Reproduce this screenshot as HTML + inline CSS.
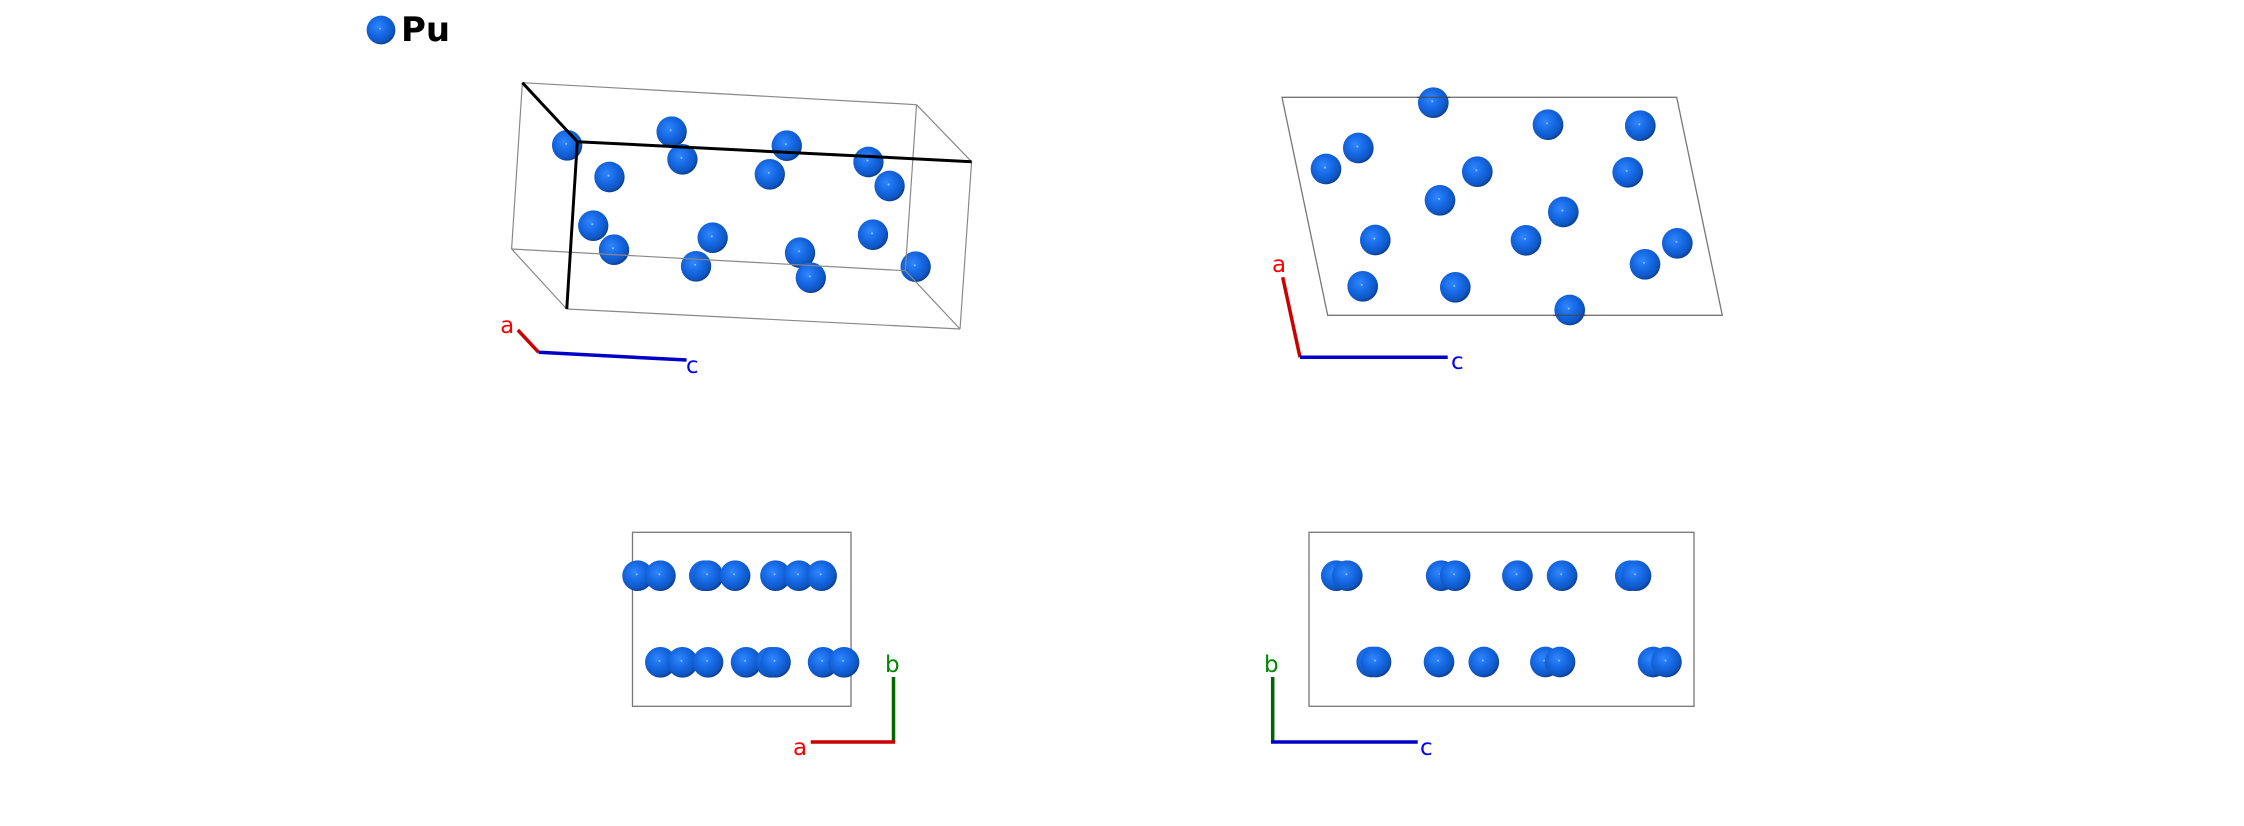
<!DOCTYPE html>
<html><head><meta charset="utf-8"><style>
html,body{margin:0;padding:0;background:#fff;}
svg{display:block;}
text{font-family:"DejaVu Sans","Liberation Sans",sans-serif;}
</style></head><body>
<svg width="2244" height="826" viewBox="0 0 2244 826" xmlns="http://www.w3.org/2000/svg">
<defs>
<radialGradient id="g" cx="0.42" cy="0.4" r="0.62" fx="0.4" fy="0.38">
<stop offset="0" stop-color="#2f86ff"/>
<stop offset="0.55" stop-color="#1466e0"/>
<stop offset="0.85" stop-color="#0f55c0"/>
<stop offset="1" stop-color="#0a3a86"/>
</radialGradient>
<symbol id="s" viewBox="-17 -17 34 34" overflow="visible"><circle r="16.3" fill="url(#g)"/><circle cx="-1" cy="-1.5" r="1.1" fill="#8fbfff"/></symbol>
</defs>
<!-- legend -->
<use href="#s" x="366" y="15" width="30" height="30"/>
<text x="401" y="41" font-size="34" font-weight="bold" fill="#000">Pu</text>

<!-- panel 1 -->
<g transform="translate(350,0) scale(0.9884,1) translate(-350,0)">
<use href="#s" x="553.7" y="129.3" width="32" height="32"/>
<use href="#s" x="659.4" y="115.7" width="32" height="32"/>
<use href="#s" x="670.3" y="143.3" width="32" height="32"/>
<use href="#s" x="596.5" y="161" width="32" height="32"/>
<use href="#s" x="775.9" y="129.7" width="32" height="32"/>
<use href="#s" x="758.7" y="158.3" width="32" height="32"/>
<use href="#s" x="858.5" y="146" width="32" height="32"/>
<use href="#s" x="879.9" y="170" width="32" height="32"/>
<use href="#s" x="580.1" y="209.7" width="32" height="32"/>
<use href="#s" x="601.1" y="233.7" width="32" height="32"/>
<use href="#s" x="700.9" y="221.7" width="32" height="32"/>
<use href="#s" x="684.1" y="250.3" width="32" height="32"/>
<use href="#s" x="789.3" y="236.7" width="32" height="32"/>
<use href="#s" x="800.2" y="261.7" width="32" height="32"/>
<use href="#s" x="863.1" y="218.7" width="32" height="32"/>
<use href="#s" x="906.3" y="250.7" width="32" height="32"/>
<g stroke="#888" stroke-width="1.2" fill="none">
<line x1="524.4" y1="82.7" x2="923.2" y2="104.7"/>
<line x1="923.2" y1="104.7" x2="978.9" y2="161.7"/>
<line x1="524.4" y1="82.7" x2="513.5" y2="249"/>
<line x1="513.5" y1="249" x2="569.3" y2="309"/>
<line x1="569.3" y1="309" x2="967.2" y2="329"/>
<line x1="967.2" y1="329" x2="978.9" y2="161.7"/>
<line x1="923.2" y1="104.7" x2="911.8" y2="270.7"/>
<line x1="911.8" y1="270.7" x2="967.2" y2="329"/>
<line x1="513.5" y1="249" x2="911.8" y2="270.7"/>
</g>
<g stroke="#000" stroke-width="3" fill="none">
<line x1="524.4" y1="82.7" x2="580" y2="141.7"/>
<line x1="580" y1="141.7" x2="978.9" y2="161.7"/>
<line x1="580" y1="141.7" x2="569.3" y2="309"/>
</g>
<line x1="519.8" y1="330" x2="540.8" y2="352.3" stroke="#c00" stroke-width="3.5"/>
<line x1="540.8" y1="352.3" x2="690.5" y2="360" stroke="#0000c8" stroke-width="3.5"/>
<text x="502" y="333" font-size="23" fill="#f00">a</text>
<text x="690" y="373" font-size="23" fill="#00f">c</text>
</g>

<!-- panel 2 -->
<g>
<polygon points="1282,97.3 1676.7,97.3 1722.3,315.3 1327.7,315.3" fill="none" stroke="#777" stroke-width="1.3"/>
<use href="#s" x="1417.3" y="86.7" width="32" height="32"/>
<use href="#s" x="1532" y="108.7" width="32" height="32"/>
<use href="#s" x="1624.3" y="109.7" width="32" height="32"/>
<use href="#s" x="1342.3" y="132" width="32" height="32"/>
<use href="#s" x="1310" y="153" width="32" height="32"/>
<use href="#s" x="1461.3" y="155.7" width="32" height="32"/>
<use href="#s" x="1611.7" y="156.3" width="32" height="32"/>
<use href="#s" x="1424" y="184.3" width="32" height="32"/>
<use href="#s" x="1547.3" y="196" width="32" height="32"/>
<use href="#s" x="1359.3" y="224" width="32" height="32"/>
<use href="#s" x="1510" y="224.3" width="32" height="32"/>
<use href="#s" x="1661.3" y="227.3" width="32" height="32"/>
<use href="#s" x="1629" y="248.3" width="32" height="32"/>
<use href="#s" x="1346.7" y="270.3" width="32" height="32"/>
<use href="#s" x="1439.3" y="271.3" width="32" height="32"/>
<use href="#s" x="1553.7" y="294" width="32" height="32"/>
<line x1="1417" y1="97.3" x2="1450" y2="97.3" stroke="#444" stroke-width="1"/>
<line x1="1553" y1="315.3" x2="1586" y2="315.3" stroke="#444" stroke-width="1"/>
<line x1="1282.7" y1="277.3" x2="1300" y2="357.3" stroke="#c00" stroke-width="3.5"/>
<line x1="1300" y1="357.3" x2="1447.7" y2="357.3" stroke="#0000c8" stroke-width="3.5"/>
<text x="1272" y="272" font-size="23" fill="#f00">a</text>
<text x="1451" y="369" font-size="23" fill="#00f">c</text>
</g>

<!-- panel 3 -->
<g>
<rect x="632.5" y="532.3" width="218.5" height="174" fill="none" stroke="#777" stroke-width="1.3"/>
<use href="#s" x="621.6" y="559.7" width="32" height="32"/>
<use href="#s" x="644.4" y="559.7" width="32" height="32"/>
<use href="#s" x="688.3" y="559.7" width="32" height="32"/>
<use href="#s" x="692" y="559.7" width="32" height="32"/>
<use href="#s" x="719.1" y="559.7" width="32" height="32"/>
<use href="#s" x="759.5" y="559.7" width="32" height="32"/>
<use href="#s" x="782.9" y="559.7" width="32" height="32"/>
<use href="#s" x="805.6" y="559.7" width="32" height="32"/>
<use href="#s" x="644.4" y="646.3" width="32" height="32"/>
<use href="#s" x="666.4" y="646.3" width="32" height="32"/>
<use href="#s" x="692" y="646.3" width="32" height="32"/>
<use href="#s" x="730.1" y="646.3" width="32" height="32"/>
<use href="#s" x="755" y="646.3" width="32" height="32"/>
<use href="#s" x="759.5" y="646.3" width="32" height="32"/>
<use href="#s" x="807.1" y="646.3" width="32" height="32"/>
<use href="#s" x="828" y="646.3" width="32" height="32"/>
<line x1="893.5" y1="677" x2="893.5" y2="742" stroke="#006600" stroke-width="3.5"/>
<line x1="810.7" y1="742" x2="895" y2="742" stroke="#c00" stroke-width="3.5"/>
<text x="885" y="672" font-size="23" fill="#080">b</text>
<text x="793" y="755" font-size="23" fill="#f00">a</text>
</g>

<!-- panel 4 -->
<g>
<rect x="1309" y="532.3" width="385" height="174" fill="none" stroke="#777" stroke-width="1.3"/>
<use href="#s" x="1320.3" y="559.7" width="32" height="32"/>
<use href="#s" x="1331.3" y="559.7" width="32" height="32"/>
<use href="#s" x="1425.2" y="559.7" width="32" height="32"/>
<use href="#s" x="1439.1" y="559.7" width="32" height="32"/>
<use href="#s" x="1501.4" y="559.7" width="32" height="32"/>
<use href="#s" x="1546.1" y="559.7" width="32" height="32"/>
<use href="#s" x="1614.3" y="559.7" width="32" height="32"/>
<use href="#s" x="1620" y="559.7" width="32" height="32"/>
<use href="#s" x="1355.7" y="646" width="32" height="32"/>
<use href="#s" x="1360" y="646" width="32" height="32"/>
<use href="#s" x="1423" y="646" width="32" height="32"/>
<use href="#s" x="1467.8" y="646" width="32" height="32"/>
<use href="#s" x="1529.4" y="646" width="32" height="32"/>
<use href="#s" x="1544" y="646" width="32" height="32"/>
<use href="#s" x="1637.1" y="646" width="32" height="32"/>
<use href="#s" x="1650.4" y="646" width="32" height="32"/>
<line x1="1272.7" y1="677" x2="1272.7" y2="742" stroke="#006600" stroke-width="3.5"/>
<line x1="1271" y1="742" x2="1417.7" y2="742" stroke="#0000c8" stroke-width="3.5"/>
<text x="1264" y="672" font-size="23" fill="#080">b</text>
<text x="1420" y="755" font-size="23" fill="#00f">c</text>
</g>
</svg>
</body></html>
